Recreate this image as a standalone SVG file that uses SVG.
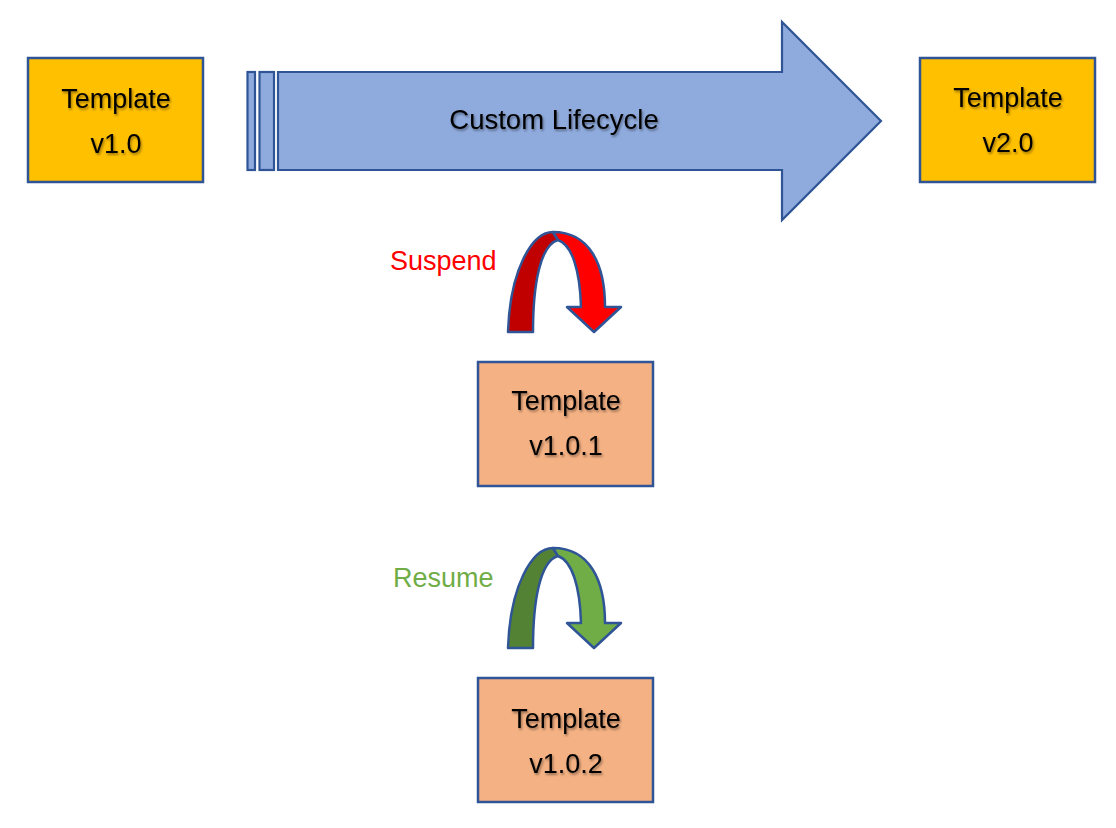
<svg xmlns="http://www.w3.org/2000/svg" width="1116" height="828" viewBox="0 0 1116 828">
<defs>
<filter id="sh" x="-10%" y="-20%" width="120%" height="150%">
<feDropShadow dx="1.2" dy="1.8" stdDeviation="1.2" flood-color="#000" flood-opacity="0.4"/>
</filter>
<path id="darkBand" d="M508,332 C510,270 532,232 553,232 L558,240 C540,245 533,285 533,332 Z"/>
<path id="lightBand" d="M553,232 C590,232 605,265 605,307 L621,307 L594,332 L567,307 L581,307 C580,270 572,245 558,240 Z"/>
</defs>
<style>
.box{stroke:#2F5597;stroke-width:2.5}
.gold{fill:#FFC000}
.salmon{fill:#F4B183}
.t{font-family:"Liberation Sans",Arial,sans-serif;font-size:27px;fill:#000;text-anchor:middle;filter:url(#sh)}
.lbl{font-family:"Liberation Sans",Arial,sans-serif;font-size:27px;text-anchor:start}
.bend{stroke:#2F5597;stroke-width:2.5;stroke-linejoin:round}
.big{fill:#8FAADC;stroke:#2F5597;stroke-width:2.2}
</style>
<rect width="1116" height="828" fill="#fff"/>

<g id="lifecycle">
<rect class="big" x="247.5" y="72" width="7.5" height="98"/>
<rect class="big" x="259.5" y="72" width="14.5" height="98"/>
<path class="big" d="M278,72 L782,72 L782,22 L881,121 L782,220 L782,170 L278,170 Z"/>
<text class="t" x="554" y="129" style="font-size:27.5px">Custom Lifecycle</text>
</g>

<g id="v1_0">
<rect class="box gold" x="28" y="58" width="175" height="124"/>
<text class="t" x="116" y="108">Template</text>
<text class="t" x="116" y="153">v1.0</text>
</g>

<g id="v2_0">
<rect class="box gold" x="920" y="58" width="175" height="124"/>
<text class="t" x="1008" y="107">Template</text>
<text class="t" x="1008" y="152">v2.0</text>
</g>

<g id="v1_0_1">
<rect class="box salmon" x="478" y="362" width="175" height="124"/>
<text class="t" x="566" y="410">Template</text>
<text class="t" x="566" y="455">v1.0.1</text>
</g>

<g id="v1_0_2">
<rect class="box salmon" x="478" y="678" width="175" height="124"/>
<text class="t" x="566" y="728">Template</text>
<text class="t" x="566" y="773">v1.0.2</text>
</g>

<g id="connectors">
<g id="suspend">
<use href="#darkBand" class="bend" fill="#C00000"/>
<use href="#lightBand" class="bend" fill="#FF0000"/>
<text class="lbl" x="390" y="270" fill="#FF0000">Suspend</text>
</g>
<g id="resume" transform="translate(0,316)">
<use href="#darkBand" class="bend" fill="#548235"/>
<use href="#lightBand" class="bend" fill="#70AD47"/>
<text class="lbl" x="393" y="271" fill="#70AD47">Resume</text>
</g>
</g>
</svg>
